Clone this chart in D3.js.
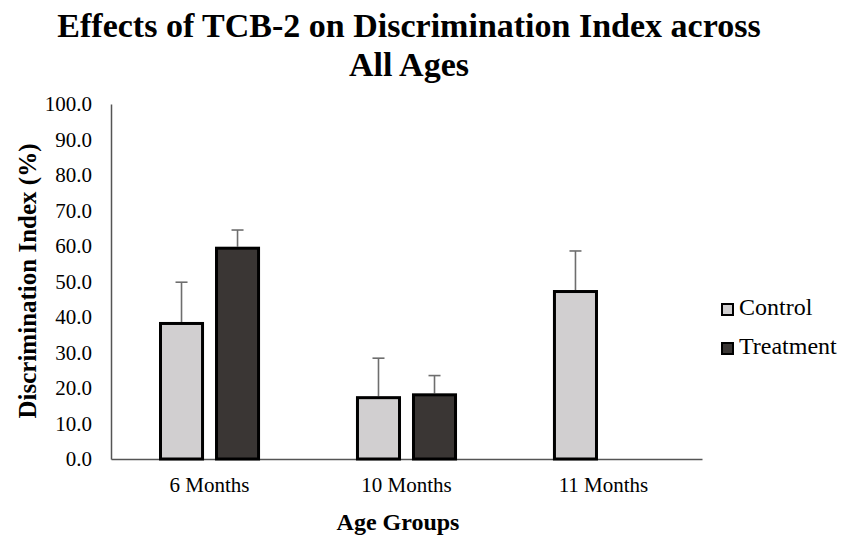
<!DOCTYPE html>
<html>
<head>
<meta charset="utf-8">
<script src="https://cdn.jsdelivr.net/npm/d3@7"></script>
<style>
  html, body { margin: 0; padding: 0; background: #fff; }
  svg { display: block; }
  svg text { font-family: "Liberation Serif", "Times New Roman", serif !important; }
</style>
</head>
<body>
<svg id="chart" width="842" height="536"></svg>
<script>
// ---- Data ----
const categories = ["6 Months", "10 Months", "11 Months"];
const seriesNames = ["Control", "Treatment"];
const controlValues = [38.6, 17.7, 47.6];
const treatmentValues = [59.8, 18.5, null];
const controlErrors = [11.2, 10.7, 11.0];
const treatmentErrors = [4.7, 5.0, null];
const yTicks = [0, 10, 20, 30, 40, 50, 60, 70, 80, 90, 100];
const titleLines = ["Effects of TCB-2 on Discrimination Index across", "All Ages"];
const yAxisTitle = "Discrimination Index (%)";
const xAxisTitle = "Age Groups";

const colors = { Control: "#d1cfd0", Treatment: "#3a3634" };

const rows = [];
categories.forEach((c, i) => {
  rows.push({ cat: c, series: "Control", value: controlValues[i], err: controlErrors[i] });
  if (treatmentValues[i] !== null) {
    rows.push({ cat: c, series: "Treatment", value: treatmentValues[i], err: treatmentErrors[i] });
  }
});

// ---- Layout ----
const svg = d3.select("#chart");
const plotLeft = 111, plotRight = 702, plotTop = 104, plotBottom = 459;

const x0 = d3.scaleBand().domain(categories).range([plotLeft, plotRight])
  .paddingInner(0.487).paddingOuter(0.2437);
const x1 = d3.scaleBand().domain(seriesNames).range([0, x0.bandwidth()])
  .paddingInner(0.196).paddingOuter(0);
const y = d3.scaleLinear().domain([0, 100]).range([plotBottom, plotTop]);

// Title
svg.append("g").selectAll("text").data(titleLines).join("text")
  .attr("x", 409)
  .attr("y", (d, i) => 37 + i * 39)
  .attr("text-anchor", "middle")
  .attr("font-weight", "bold")
  .attr("font-size", 34)
  .attr("fill", "#000")
  .text(d => d);

// Y axis
const yAxis = svg.append("g")
  .attr("transform", `translate(${plotLeft},0)`)
  .call(d3.axisLeft(y).tickValues(yTicks).tickFormat(d3.format(".1f")).tickSize(0).tickPadding(19));
yAxis.select(".domain").attr("stroke", "#555").attr("stroke-width", 1.5);
yAxis.selectAll("text").attr("font-size", 21).attr("fill", "#000");

// X axis
const xAxis = svg.append("g")
  .attr("transform", `translate(0,${plotBottom})`)
  .call(d3.axisBottom(x0).tickSize(0).tickPadding(18));
xAxis.select(".domain").attr("stroke", "#555").attr("stroke-width", 1.5);
xAxis.selectAll("text").attr("font-size", 21).attr("fill", "#000");

// Error bars (upper only)
const eb = svg.append("g").selectAll("g").data(rows).join("g");
const cx = d => x0(d.cat) + x1(d.series) + x1.bandwidth() / 2;
eb.append("line")
  .attr("x1", cx).attr("x2", cx)
  .attr("y1", d => y(d.value)).attr("y2", d => y(d.value + d.err))
  .attr("stroke", "#6e6e6e").attr("stroke-width", 1.6);
eb.append("line")
  .attr("x1", d => cx(d) - 6).attr("x2", d => cx(d) + 6)
  .attr("y1", d => y(d.value + d.err)).attr("y2", d => y(d.value + d.err))
  .attr("stroke", "#6e6e6e").attr("stroke-width", 1.6);

// Bars
svg.append("g").selectAll("rect").data(rows).join("rect")
  .attr("x", d => x0(d.cat) + x1(d.series) + 1.5)
  .attr("y", d => y(d.value) + 1.5)
  .attr("width", x1.bandwidth() - 3)
  .attr("height", d => y(0) - y(d.value) - 1.5)
  .attr("fill", d => colors[d.series])
  .attr("stroke", "#000")
  .attr("stroke-width", 3);

// Y axis title
svg.append("text")
  .attr("transform", "translate(36,281) rotate(-90)")
  .attr("text-anchor", "middle")
  .attr("font-weight", "bold")
  .attr("font-size", 25)
  .attr("fill", "#000")
  .text(yAxisTitle);

// X axis title
svg.append("text")
  .attr("x", 398).attr("y", 530)
  .attr("text-anchor", "middle")
  .attr("font-weight", "bold")
  .attr("font-size", 24)
  .attr("fill", "#000")
  .text(xAxisTitle);

// Legend
const legend = svg.append("g").selectAll("g").data(seriesNames).join("g")
  .attr("transform", (d, i) => `translate(721,${303 + i * 39})`);
legend.append("rect")
  .attr("x", 1).attr("y", 1).attr("width", 11).attr("height", 11)
  .attr("fill", d => colors[d]).attr("stroke", "#000").attr("stroke-width", 2);
legend.append("text")
  .attr("x", 18).attr("y", 12)
  .attr("font-size", 24).attr("fill", "#000")
  .text(d => d);
</script>
</body>
</html>
